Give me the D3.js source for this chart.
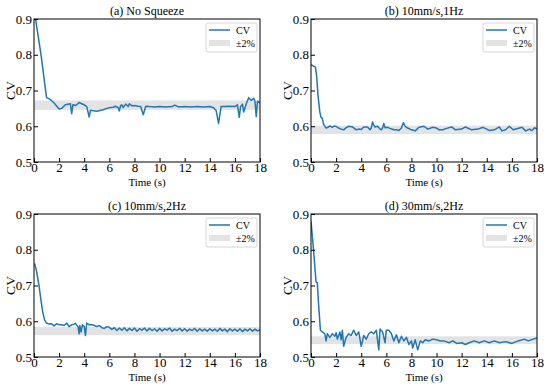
<!DOCTYPE html>
<html><head><meta charset="utf-8">
<script src="https://cdn.jsdelivr.net/npm/d3@7"></script>
<style>
body{margin:0;background:#fff}
svg{display:block}
text{font-family:"Liberation Serif","Times New Roman",serif;fill:#000}
</style>
</head><body>
<svg id="chart" width="550" height="389"></svg>
<script>
// ---- data ----
const titles = ["(a) No Squeeze", "(b) 10mm/s,1Hz", "(c) 10mm/s,2Hz", "(d) 30mm/s,2Hz"];
const xTicks = [0,2,4,6,8,10,12,14,16,18];
const yTicks = [0.5,0.6,0.7,0.8,0.9];
const bandCenter = [0.659, 0.590, 0.5725, 0.547];
const bandPct = 0.02;

const timeA = [0.1,0.3,0.6,0.85,1.0,1.3,1.6,2.0,2.2,2.5,2.9,3.0,3.1,3.3,3.5,3.6,3.8,4.0,4.2,4.4,4.5,4.6,5.0,5.5,6.0,6.3,6.5,6.7,6.8,6.9,7.0,7.1,7.3,7.5,7.6,7.8,8.0,8.3,8.5,8.7,8.9,9.2,9.6,10.0,10.5,11.0,11.2,11.5,12.0,12.5,13.0,13.5,14.0,14.3,14.5,14.7,14.9,15.2,15.5,16.0,16.2,16.35,16.45,16.6,16.7,16.9,17.1,17.3,17.5,17.6,17.7,17.8,18.0];
const cvA   = [0.905,0.86,0.79,0.72,0.68,0.675,0.665,0.648,0.65,0.66,0.663,0.635,0.66,0.658,0.663,0.667,0.663,0.66,0.655,0.626,0.645,0.644,0.642,0.646,0.652,0.653,0.656,0.652,0.643,0.658,0.66,0.652,0.662,0.655,0.663,0.657,0.658,0.656,0.655,0.632,0.656,0.655,0.654,0.655,0.654,0.655,0.659,0.654,0.655,0.654,0.655,0.654,0.655,0.652,0.645,0.608,0.655,0.655,0.656,0.655,0.66,0.625,0.655,0.662,0.64,0.662,0.68,0.672,0.678,0.67,0.627,0.67,0.665];

const timeB = [0,0.2,0.35,0.45,0.55,0.7,0.8,0.9,1.0,1.2,1.4,1.5,1.7,1.8,2.0,2.2,2.4,2.6,2.8,3.0,3.3,3.6,3.8,4.0,4.2,4.5,4.7,4.8,4.9,5.0,5.1,5.3,5.5,5.6,5.7,5.8,5.9,6.1,6.3,6.6,6.8,7.0,7.2,7.35,7.5,7.7,8.0,8.3,8.6,9.0,9.3,9.7,10.0,10.2,10.5,10.8,11.2,11.5,12.0,12.3,12.8,13.3,13.7,14.0,14.2,14.6,15.0,15.2,15.5,15.8,16.1,16.4,16.8,17.1,17.4,17.6,17.8,18.0];
const cvB   = [0.772,0.768,0.766,0.74,0.69,0.64,0.625,0.622,0.606,0.595,0.598,0.601,0.597,0.6,0.6,0.595,0.592,0.59,0.596,0.6,0.598,0.59,0.592,0.591,0.598,0.598,0.59,0.595,0.612,0.603,0.598,0.6,0.592,0.59,0.595,0.608,0.596,0.597,0.594,0.59,0.59,0.588,0.595,0.61,0.6,0.595,0.59,0.587,0.597,0.6,0.592,0.597,0.595,0.59,0.59,0.594,0.598,0.59,0.592,0.598,0.59,0.592,0.597,0.592,0.588,0.59,0.598,0.587,0.59,0.6,0.59,0.593,0.597,0.587,0.592,0.588,0.596,0.592];

const timeC = [0.05,0.2,0.4,0.55,0.7,0.85,1.0,1.2,1.4,1.6,1.8,2.0,2.2,2.4,2.6,2.8,3.0,3.2,3.3,3.5,3.6,3.65,3.75,3.85,4.0,4.1,4.2,4.4,4.6,4.8,5.0,5.2,5.4,5.6,5.8,6.0,6.2,6.4,6.6,6.8,7.0,7.2,7.4,7.6,7.8,8.0,8.2,8.4,8.6,8.8,9.0,9.2,9.4,9.6,9.8,10.0,10.2,10.4,10.6,10.8,11.0,11.2,11.4,11.6,11.8,12.0,12.2,12.4,12.6,12.8,13.0,13.2,13.4,13.6,13.8,14.0,14.2,14.4,14.6,14.8,15.0,15.2,15.4,15.6,15.8,16.0,16.2,16.4,16.6,16.8,17.0,17.2,17.4,17.6,17.8,18.0];
const cvC   = [0.762,0.74,0.70,0.66,0.625,0.603,0.595,0.592,0.593,0.587,0.593,0.59,0.59,0.588,0.595,0.585,0.59,0.592,0.594,0.585,0.565,0.588,0.57,0.59,0.585,0.56,0.595,0.59,0.59,0.588,0.585,0.588,0.582,0.58,0.585,0.583,0.577,0.582,0.574,0.581,0.575,0.582,0.573,0.580,0.574,0.581,0.572,0.579,0.575,0.581,0.573,0.580,0.574,0.579,0.572,0.580,0.573,0.579,0.575,0.581,0.572,0.578,0.574,0.580,0.573,0.579,0.572,0.578,0.574,0.580,0.572,0.579,0.573,0.578,0.572,0.579,0.573,0.578,0.572,0.580,0.573,0.578,0.571,0.579,0.573,0.578,0.572,0.579,0.571,0.578,0.573,0.579,0.572,0.578,0.573,0.576];

const timeD = [0,0.2,0.4,0.5,0.6,0.75,0.9,1.1,1.2,1.3,1.5,1.7,1.9,2.0,2.1,2.3,2.4,2.5,2.6,2.8,3.0,3.2,3.4,3.6,3.8,4.0,4.2,4.4,4.6,4.8,5.0,5.2,5.4,5.5,5.7,5.9,6.0,6.2,6.4,6.6,6.8,7.0,7.2,7.4,7.6,7.8,8.0,8.1,8.3,8.5,8.7,8.9,9.1,9.4,9.7,10.0,10.3,10.6,11.0,11.3,11.6,12.0,12.3,12.6,13.0,13.4,13.8,14.2,14.6,15.0,15.5,16.0,16.5,17.0,17.3,17.7,18.0];
const cvD   = [0.88,0.8,0.71,0.708,0.65,0.575,0.57,0.565,0.545,0.565,0.555,0.565,0.558,0.568,0.55,0.57,0.548,0.575,0.53,0.555,0.565,0.56,0.575,0.56,0.57,0.53,0.56,0.55,0.565,0.57,0.565,0.575,0.52,0.578,0.57,0.54,0.575,0.575,0.565,0.545,0.562,0.54,0.558,0.545,0.555,0.535,0.545,0.525,0.548,0.52,0.545,0.54,0.548,0.545,0.55,0.548,0.545,0.545,0.54,0.545,0.538,0.54,0.535,0.54,0.545,0.54,0.545,0.54,0.545,0.54,0.543,0.538,0.545,0.55,0.545,0.55,0.553];

const times = [timeA, timeB, timeC, timeD];
const values = [cvA, cvB, cvC, cvD];

// ---- layout ----
const origins = [[34,19],[311,19],[34,214],[311,214]];
const W = 226, H = 143;
const lineColor = "#1f77b4";
const svg = d3.select("#chart");

origins.forEach((o, i) => {
  const g = svg.append("g").attr("transform", `translate(${o[0]},${o[1]})`);
  const x = d3.scaleLinear().domain([0,18]).range([0,W]);
  const y = d3.scaleLinear().domain([0.5,0.9]).range([H,0]);
  const cid = "clip"+i;
  g.append("clipPath").attr("id", cid).append("rect").attr("width", W).attr("height", H);

  // band
  const c = bandCenter[i];
  g.append("rect").attr("x", x(0)).attr("width", x(18)-x(0))
    .attr("y", y(c*(1+bandPct))).attr("height", y(c*(1-bandPct)) - y(c*(1+bandPct)))
    .attr("fill", "#e3e3e3");

  // line
  const data = times[i].map((t,k) => [t, values[i][k]]);
  g.append("path").datum(data).attr("clip-path", `url(#${cid})`)
    .attr("fill","none").attr("stroke", lineColor).attr("stroke-width", 1.5)
    .attr("stroke-linejoin","round")
    .attr("d", d3.line().x(d=>x(d[0])).y(d=>y(d[1])));

  // axes
  const ax = g.append("g").attr("transform", `translate(0,${H})`)
    .call(d3.axisBottom(x).tickValues(xTicks).tickSize(-4).tickPadding(1).tickFormat(d3.format("d")));
  const ay = g.append("g")
    .call(d3.axisLeft(y).tickValues(yTicks).tickSize(-4).tickPadding(2).tickFormat(d3.format(".1f")));
  [ax, ay].forEach(a => {
    a.attr("font-family", null).attr("font-size", null);
    a.select(".domain").remove();
    a.selectAll("text").style("font-family","'Liberation Serif',serif").style("font-size","13px").attr("fill","#000");
    a.selectAll("line").attr("stroke","#000");
  });

  // frame
  g.append("rect").attr("width", W).attr("height", H).attr("fill","none").attr("stroke","#000").attr("stroke-width",1);

  // labels
  g.append("text").attr("x", W/2).attr("y", -4).attr("text-anchor","middle").style("font-size","12px").text(titles[i]);
  g.append("text").attr("x", W/2).attr("y", H+23.5).attr("text-anchor","middle").style("font-size","11px").text("Time (s)");
  g.append("text").attr("transform", `translate(-19,${H/2}) rotate(-90)`)
    .attr("text-anchor","middle").style("font-size","13.5px").text("CV");

  // legend
  const lg = g.append("g").attr("transform", `translate(${W-54},4)`);
  lg.append("rect").attr("width",51).attr("height",29).attr("rx",2).attr("fill","#fff").attr("stroke","#cccccc").attr("stroke-width",0.8);
  lg.append("line").attr("x1",3).attr("x2",24).attr("y1",7).attr("y2",7).attr("stroke",lineColor).attr("stroke-width",1.5);
  lg.append("text").attr("x",30).attr("y",10.5).style("font-size","10px").text("CV");
  lg.append("rect").attr("x",3).attr("y",17).attr("width",21).attr("height",6).attr("fill","#e3e3e3");
  lg.append("text").attr("x",30).attr("y",23.5).style("font-size","10px").text("±2%");
});
</script>
</body></html>
